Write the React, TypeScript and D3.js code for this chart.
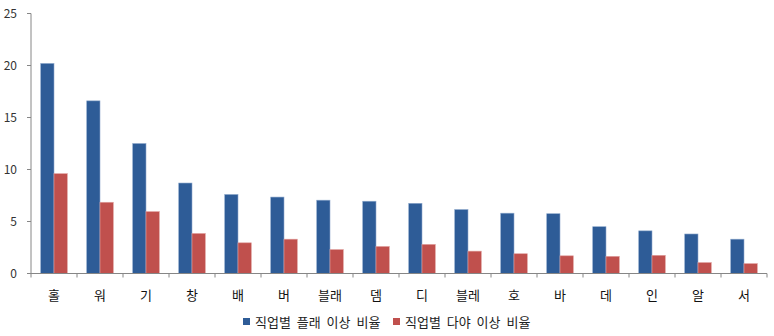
import React from "react";
import * as d3 from "d3";

const categories = ["홀", "워", "기", "창", "배", "버", "블래", "뎀", "디", "블레", "호", "바", "데", "인", "알", "서"];
const seriesNames = ["직업별 플래 이상 비율", "직업별 다야 이상 비율"];
const platinumValues = [20.2, 16.6, 12.5, 8.7, 7.6, 7.35, 7.05, 6.95, 6.75, 6.15, 5.8, 5.75, 4.5, 4.1, 3.8, 3.3];
const diamondValues = [9.6, 6.85, 5.95, 3.85, 2.95, 3.3, 2.3, 2.6, 2.8, 2.15, 1.9, 1.7, 1.65, 1.75, 1.05, 0.95];
const yTicks = [0, 5, 10, 15, 20, 25];
const colors = ["#2e5c97", "#c0504d"];

const W = 774, H = 336;
const left = 31, right = 767, top = 13.5, bottom = 273.5;

export default function App() {
  const x = d3.scaleBand<string>().domain(categories).range([left, right]).paddingInner(0).paddingOuter(0);
  const y = d3.scaleLinear().domain([0, 25]).range([bottom, top]);
  const bw = 13.3;
  const series = [platinumValues, diamondValues];
  const font = "'Noto Sans CJK KR', 'Noto Sans', sans-serif";
  return (
    <svg width={W} height={H} style={{ position: "absolute", left: 0, top: 0, background: "#fff" }} fontFamily={font}>
      {series.map((vals, si) =>
        categories.map((c, i) => {
          const cx = x(c)! + x.bandwidth() / 2;
          const x0 = cx - bw + si * bw;
          return (
            <rect key={`${si}-${i}`} x={x0} y={y(vals[i])} width={bw} height={bottom - y(vals[i])}
              fill={colors[si]} stroke={si === 0 ? "#8fa9cc" : "#e0a09e"} strokeWidth={0.6} />
          );
        })
      )}
      <line x1={left} x2={left} y1={top} y2={bottom} stroke="#868686" />
      <line x1={left} x2={right} y1={bottom} y2={bottom} stroke="#868686" />
      {yTicks.map(t => (
        <g key={t}>
          <line x1={left - 4} x2={left} y1={y(t)} y2={y(t)} stroke="#868686" />
          <text x={17} y={y(t)} dy="0.35em" textAnchor="end" fontSize={12} fill="#333">{t}</text>
        </g>
      ))}
      {categories.map((c, i) => (
        <line key={"t" + i} x1={x(c)!} x2={x(c)!} y1={bottom} y2={bottom + 4} stroke="#868686" />
      ))}
      <line x1={right} x2={right} y1={bottom} y2={bottom + 4} stroke="#868686" />
      {categories.map(c => (
        <text key={"l" + c} x={x(c)! + x.bandwidth() / 2} y={295} dy="0.35em" textAnchor="middle" fontSize={13} fill="#111">{c}</text>
      ))}
      <g>
        <rect x={243} y={318} width={7} height={7} fill={colors[0]} />
        <text x={255} y={322} dy="0.35em" fontSize={13} fill="#222" style={{ wordSpacing: "3px" }}>{seriesNames[0]}</text>
        <rect x={393} y={318} width={7} height={7} fill={colors[1]} />
        <text x={405} y={322} dy="0.35em" fontSize={13} fill="#222" style={{ wordSpacing: "3px" }}>{seriesNames[1]}</text>
      </g>
    </svg>
  );
}
